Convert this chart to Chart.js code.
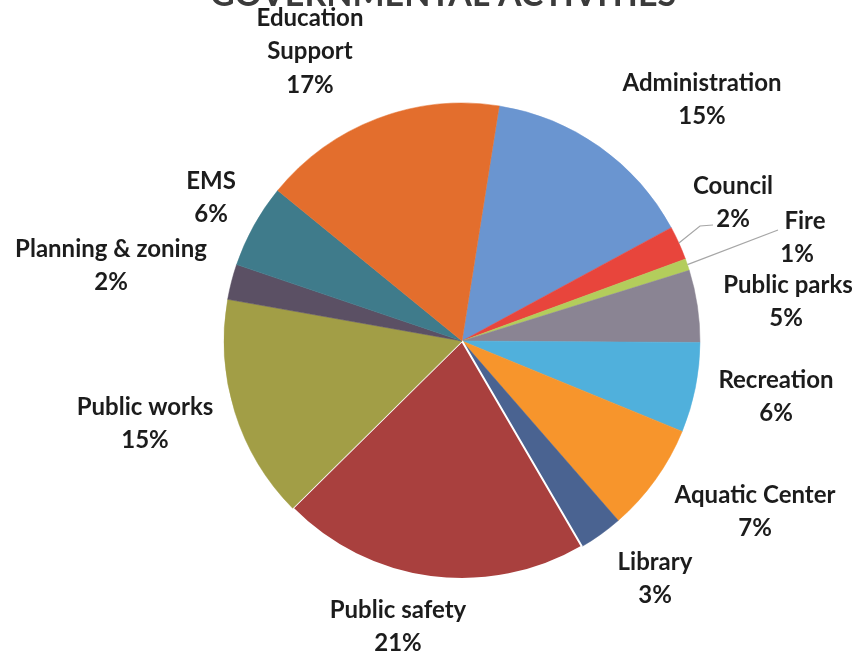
<!DOCTYPE html>
<html>
<head>
<meta charset="utf-8">
<script src="https://cdn.jsdelivr.net/npm/chart.js@4.4.0/dist/chart.umd.min.js"></script>
<style>
html,body{margin:0;padding:0;background:#fff;}
#wrap{width:856px;height:657px;position:relative;}
</style>
</head>
<body>
<div id="wrap"><canvas id="c" width="856" height="657"></canvas></div>
<script>
const title = "GOVERNMENTAL ACTIVITIES";
const categories = ["Administration","Council","Fire","Public parks","Recreation","Aquatic Center","Library","Public safety","Public works","Planning & zoning","EMS","Education Support"];
const shares = [14.6, 2.3, 0.8, 4.9, 6.1, 7.4, 3.0, 21.0, 15.2, 2.4, 5.7, 16.6];
const sliceColors = ["#6a95d0","#e8453c","#b3cd5c","#8a8493","#50b0dc","#f7952c","#4a6391","#a9403e","#a29e46","#5b5064","#3f7b8b","#e36e2d"];
// label text lines (category split for wrapping) and label anchor positions
const labelLines = [["Administration"],["Council"],["Fire"],["Public parks"],["Recreation"],["Aquatic Center"],["Library"],["Public safety"],["Public works"],["Planning & zoning"],["EMS"],["Education","Support"]];
const labelPos = [[702,83],[733,186],[805,221],[788,285],[776,380],[755,495],[655,562],[398,610],[145,407],[111,249],[211,181],[310,18]];

const total = shares.reduce((a,b)=>a+b,0);

const labelPlugin = {
  id:'labels',
  afterDraw(chart){
    const ctx = chart.ctx;
    ctx.save();
    // title (cut off at top)
    ctx.font = 'bold 34px Lato, "Open Sans", sans-serif';
    ctx.fillStyle = '#3b3b3b';
    ctx.textAlign = 'center';
    ctx.textBaseline = 'alphabetic';
    ctx.fillText(title, 443, 6);
    // leader lines
    const meta = chart.getDatasetMeta(0);
    ctx.strokeStyle = '#a6a6a6';
    ctx.lineWidth = 1.2;
    const leader = (i, pts) => {
      const a = meta.data[i];
      const mid = (a.startAngle + a.endAngle)/2;
      const x0 = a.x + Math.cos(mid)*a.outerRadius;
      const y0 = a.y + Math.sin(mid)*a.outerRadius;
      ctx.beginPath();
      ctx.moveTo(x0,y0);
      pts.forEach(p=>ctx.lineTo(p[0],p[1]));
      ctx.stroke();
    };
    leader(1, [[700,226],[713,225]]);
    leader(2, [[778,230]]);
    // labels
    ctx.font = 'bold 24px Lato, "Open Sans", sans-serif';
    ctx.fillStyle = '#1c1c1c';
    ctx.textBaseline = 'middle';
    labelLines.forEach((lines,i)=>{
      const [x,y] = labelPos[i];
      const pct = Math.round(shares[i]/total*100) + '%';
      const all = lines.concat([pct]);
      all.forEach((t,k)=>{
        let xx = x;
        if (i===2 && k===1) xx = 797;
        if (i===3 && k===1) xx = 786;
        ctx.fillText(t, xx, y + k*33.5);
      });
    });
    ctx.restore();
  }
};

new Chart(document.getElementById('c'), {
  type:'pie',
  data:{
    labels: categories,
    datasets:[{
      data: shares,
      backgroundColor: sliceColors,
      borderColor: categories.map((c,i)=> i===7 ? '#ffffff' : sliceColors[i]),
      borderWidth: categories.map((c,i)=> i===7 ? 2 : 0.5)
    }]
  },
  options:{
    responsive:false,
    animation:false,
    rotation: 9,
    layout:{padding:{left:223,right:155,top:102,bottom:77}},
    plugins:{legend:{display:false},tooltip:{enabled:false},title:{display:false}}
  },
  plugins:[labelPlugin]
});
</script>
</body>
</html>
